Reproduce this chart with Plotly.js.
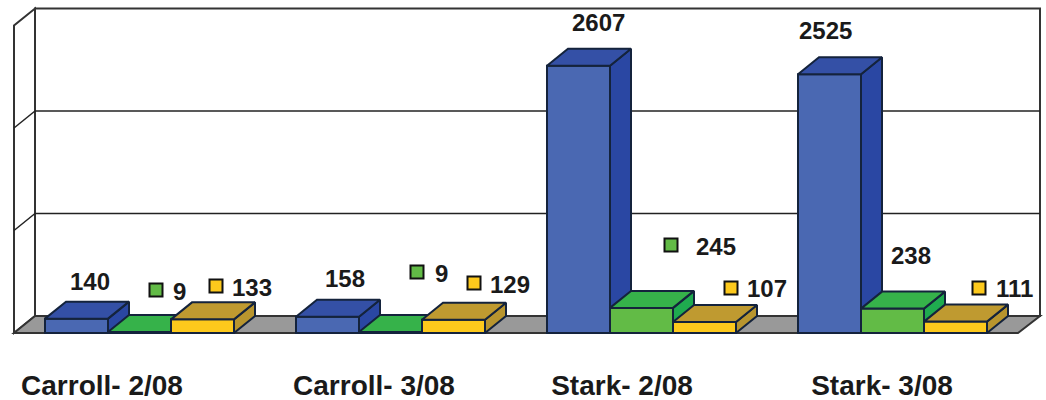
<!DOCTYPE html>
<html><head><meta charset="utf-8">
<script src="https://cdn.plot.ly/plotly-3.0.1.min.js"></script>
<style>html,body{margin:0;padding:0;background:#fff}#c{width:1046px;height:400px}</style>
</head><body><div id="c"></div>
<script>
// ---- data ----
var categories = ["Carroll- 2/08","Carroll- 3/08","Stark- 2/08","Stark- 3/08"];
var blueValues = [140,158,2607,2525];
var greenValues = [9,9,245,238];
var yellowValues = [133,129,107,111];
var gridValues = [1000,2000,3000];
// ---- styles ----
var blueFaces = {front:"#4a68b2",top:"#3450a6",side:"#2a47a3"};
var greenFaces = {front:"#62bb46",top:"#36b24a",side:"#1fab4f"};
var yellowFaces = {front:"#fdc91c",top:"#bf9a30",side:"#b8952e"};
var edge = "#14233c";
var W=1046,H=400,mB=34;
var plotBottom=H-mB;
var basePx=333, groupPx=251, originPx=45, barPx=63, pxPerUnit=0.1025, depthX=21, depthY=17;
var xr=[-originPx/groupPx,(W-originPx)/groupPx];
var yr=[(basePx-plotBottom)/pxPerUnit, basePx/pxPerUnit];
function X(p){return (p-originPx)/groupPx;}
function Y(p){return (basePx-p)/pxPerUnit;}
var w=barPx/groupPx, dx=depthX/groupPx, dy=depthY/pxPerUnit;
var offsets=[0,w,2*w];
var traces=[];
function addSeries(name,vals,faces,idx){
  var sfx = idx===0?"":String(idx+1);
  var xa="x"+sfx, ya="y"+sfx;
  traces.push({type:"bar",name:name,x:vals.map(function(_,i){return i+offsets[idx]+w/2;}),y:vals,width:w,
    marker:{color:faces.front,line:{color:edge,width:2}},xaxis:xa,yaxis:ya,hoverinfo:"skip"});
  vals.forEach(function(v,i){
    var l=i+offsets[idx], r=l+w;
    traces.push({type:"scatter",mode:"lines",x:[r,r+dx,r+dx,r,r],y:[0,dy,v+dy,v,0],fill:"toself",fillcolor:faces.side,
      line:{color:edge,width:2},xaxis:xa,yaxis:ya,hoverinfo:"skip"});
    traces.push({type:"scatter",mode:"lines",x:[l,r,r+dx,l+dx,l],y:[v,v,v+dy,v+dy,v],fill:"toself",fillcolor:faces.top,
      line:{color:edge,width:2},xaxis:xa,yaxis:ya,hoverinfo:"skip"});
  });
}
addSeries("Blue",blueValues,blueFaces,0);
addSeries("Green",greenValues,greenFaces,1);
addSeries("Yellow",yellowValues,yellowFaces,2);

// legend-key squares beside labels
var greenKeyPx=[[156,290],[417,272],[671,245]];
var yellowKeyPx=[[216,286],[474,283],[731,288],[979,288]];
function keyTrace(list,color){
  return {type:"scatter",mode:"markers",x:list.map(function(p){return X(p[0]);}),y:list.map(function(p){return Y(p[1]);}),
    marker:{symbol:"square",size:13,color:color,line:{color:"#111",width:2}},xaxis:"x4",yaxis:"y4",hoverinfo:"skip"};
}
traces.push(keyTrace(greenKeyPx,greenFaces.front));
traces.push(keyTrace(yellowKeyPx,yellowFaces.front));

// value labels
var blueLabelPx=[[90,281],[345,278],[598,22],[825,30]];
var greenLabelPx=[[179,291],[441,273],[716,246],[911,255]];
var yellowLabelPx=[[252,287],[510,284],[767,288],[1014,288]];
var annotations=[];
function addLabels(vals,pos){vals.forEach(function(v,i){
  annotations.push({x:X(pos[i][0]),y:Y(pos[i][1]),xref:"x",yref:"y",text:String(v),showarrow:false,xanchor:"center",yanchor:"middle",
    font:{family:"Liberation Sans, Arial, sans-serif",size:24,color:"#1a1a1a",weight:700}});
});}
addLabels(blueValues,blueLabelPx);addLabels(greenValues,greenLabelPx);addLabels(yellowValues,yellowLabelPx);

// chart box: back wall, left wall, floor, grid
var wl=X(35), wr=X(1040), fl=X(14), fr=X(1018), wallLine={color:"#333",width:2};
function poly(xs,ys,fill,line){var d=xs.map(function(x,i){return (i?"L":"M")+x+" "+ys[i];}).join(" ")+" Z";
  return {type:"path",path:d,xref:"x",yref:"y",layer:"below",fillcolor:fill,line:line};}
var shapes=[
  poly([wl,wr,wr,wl],[dy,dy,3000+dy,3000+dy],"#ffffff",wallLine),
  poly([fl,wl,wl,fl],[0,dy,3000+dy,3000],"#ffffff",wallLine),
  poly([fl,wl,wr,fr],[0,dy,dy,0],"#999999",wallLine)
];
gridValues.slice(0,2).forEach(function(g){
  shapes.push({type:"line",xref:"x",yref:"y",layer:"below",x0:fl,y0:g,x1:wl,y1:g+dy,line:{color:"#222",width:1.5}});
  shapes.push({type:"line",xref:"x",yref:"y",layer:"below",x0:wl,y0:g+dy,x1:wr,y1:g+dy,line:{color:"#222",width:1.5}});
});

var catCenterPx=[102,374,622,882];
var hidden={visible:false,showgrid:false,zeroline:false,fixedrange:true};
var layout={
  width:W,height:H,margin:{l:0,r:0,t:0,b:mB},paper_bgcolor:"#fff",plot_bgcolor:"rgba(0,0,0,0)",
  showlegend:false,barmode:"overlay",hovermode:false,
  xaxis:{range:xr,showgrid:false,zeroline:false,showline:false,ticks:"",tickmode:"array",fixedrange:true,
    tickvals:catCenterPx.map(X),ticktext:categories,tickangle:0,
    tickfont:{family:"Liberation Sans, Arial, sans-serif",size:28,color:"#1a1a1a",weight:700}},
  yaxis:Object.assign({range:yr},hidden),
  shapes:shapes,annotations:annotations
};
[2,3,4].forEach(function(n){
  layout["xaxis"+n]=Object.assign({range:xr,overlaying:"x"},hidden);
  layout["yaxis"+n]=Object.assign({range:yr,overlaying:"y"},hidden);
});
Plotly.newPlot("c",traces,layout,{displayModeBar:false,staticPlot:true});
</script></body></html>
